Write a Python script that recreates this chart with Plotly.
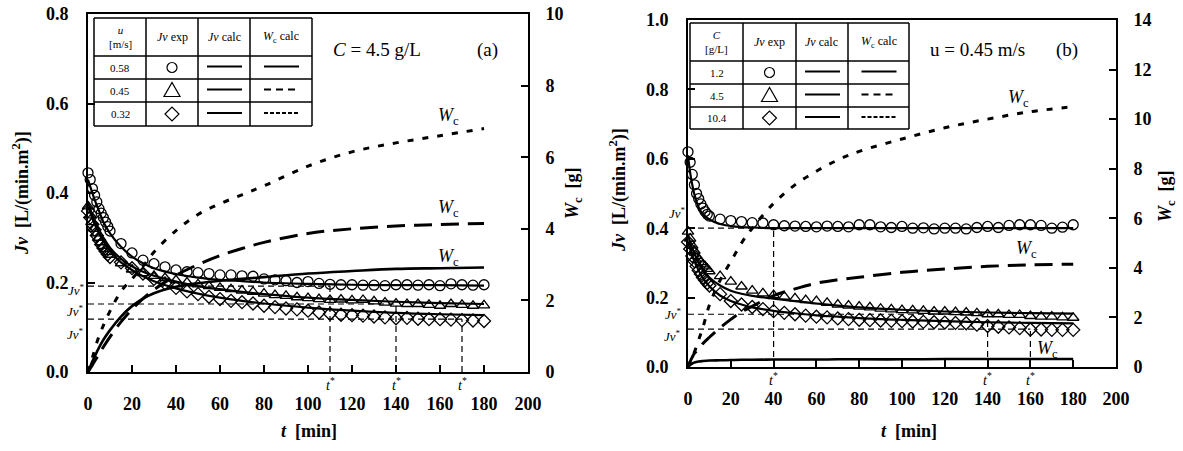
import plotly.graph_objects as go

# ---------------- data ----------------
T_EXP = [0, 1, 2, 3, 4, 5, 6, 7, 8, 9, 10,
         15, 20, 25, 30, 35, 40, 45, 50, 55, 60, 65, 70, 75, 80, 85, 90, 95, 100,
         105, 110, 115, 120, 125, 130, 135, 140, 145, 150, 155, 160, 165, 170, 175, 180]

# panel (a): C = 4.5 g/L, three velocities
JV_A_058 = [0.445, 0.43, 0.41, 0.395, 0.38, 0.365, 0.355, 0.345, 0.335, 0.325, 0.315,
            0.287, 0.266, 0.25, 0.242, 0.235, 0.228, 0.224, 0.222, 0.22, 0.217,
            0.217, 0.215, 0.214, 0.208, 0.206, 0.204, 0.2, 0.202, 0.198, 0.196,
            0.195, 0.195, 0.194, 0.194, 0.193, 0.195, 0.195, 0.194, 0.195, 0.193,
            0.197, 0.195, 0.194, 0.195]
JV_A_045 = [0.37, 0.35, 0.335, 0.32, 0.31, 0.3, 0.29, 0.282, 0.275, 0.268, 0.262,
            0.243, 0.229, 0.221, 0.215, 0.21, 0.205, 0.2, 0.196, 0.192, 0.188,
            0.185, 0.182, 0.179, 0.175, 0.172, 0.17, 0.167, 0.165, 0.163, 0.161,
            0.162, 0.16, 0.161, 0.158, 0.155, 0.153, 0.152, 0.152, 0.15, 0.148,
            0.152, 0.15, 0.148, 0.149]
JV_A_032 = [0.36, 0.345, 0.33, 0.318, 0.305, 0.295, 0.285, 0.277, 0.27, 0.263, 0.257,
            0.245, 0.232, 0.22, 0.208, 0.198, 0.188, 0.18, 0.174, 0.168, 0.163,
            0.159, 0.156, 0.153, 0.148, 0.145, 0.142, 0.14, 0.137, 0.133, 0.13,
            0.128, 0.127, 0.126, 0.124, 0.122, 0.12, 0.121, 0.119, 0.118, 0.118,
            0.117, 0.116, 0.115, 0.114]

T_CALC = [0, 1, 2, 3, 5, 7, 10, 15, 20, 25, 30, 40, 50, 60, 70, 80, 100, 120, 140, 160, 180]

JVC_A_058 = [0.43, 0.415, 0.4, 0.385, 0.36, 0.335, 0.31, 0.28, 0.258, 0.243, 0.232, 0.219,
             0.211, 0.206, 0.203, 0.2, 0.197, 0.195, 0.194, 0.194, 0.193]
JVC_A_045 = [0.38, 0.365, 0.35, 0.338, 0.318, 0.3, 0.278, 0.253, 0.236, 0.224, 0.215, 0.202,
             0.192, 0.185, 0.179, 0.174, 0.166, 0.161, 0.157, 0.154, 0.152]
JVC_A_032 = [0.37, 0.356, 0.343, 0.331, 0.31, 0.292, 0.27, 0.245, 0.228, 0.214, 0.203, 0.187,
             0.175, 0.166, 0.159, 0.153, 0.144, 0.137, 0.132, 0.129, 0.127]

WC_A_058 = [0, 0.15, 0.3, 0.43, 0.68, 0.9, 1.17, 1.55, 1.84, 2.05, 2.2, 2.38,
            2.48, 2.55, 2.6, 2.65, 2.75, 2.82, 2.88, 2.9, 2.92]
WC_A_045 = [0, 0.1, 0.2, 0.3, 0.5, 0.7, 0.98, 1.4, 1.75, 2.05, 2.3, 2.7,
            3.0, 3.25, 3.45, 3.62, 3.87, 4.0, 4.08, 4.12, 4.15]
WC_A_032 = [0, 0.2, 0.4, 0.62, 1.0, 1.3, 1.7, 2.25, 2.6, 2.95, 3.35, 3.95,
            4.4, 4.7, 4.95, 5.2, 5.75, 6.15, 6.4, 6.6, 6.8]

JV_STAR_A = [0.192, 0.152, 0.118]
T_STAR_A = [110, 140, 170]

# panel (b): u = 0.45 m/s, three concentrations
JV_B_12 = [0.62, 0.59, 0.555, 0.525, 0.5, 0.485, 0.47, 0.458, 0.448, 0.44, 0.435,
           0.426, 0.422, 0.419, 0.416, 0.415, 0.41, 0.407, 0.406, 0.405, 0.404,
           0.406, 0.405, 0.404, 0.41, 0.41, 0.404, 0.402, 0.405, 0.4, 0.401,
           0.398, 0.4, 0.4, 0.398, 0.402, 0.405, 0.402, 0.408, 0.41, 0.41,
           0.408, 0.4, 0.403, 0.41]
JV_B_45 = [0.39, 0.37, 0.35, 0.335, 0.32, 0.31, 0.302, 0.296, 0.29, 0.283, 0.276,
           0.262, 0.246, 0.232, 0.22, 0.212, 0.207, 0.203, 0.198, 0.193, 0.19,
           0.185, 0.18, 0.177, 0.174, 0.172, 0.168, 0.166, 0.164, 0.163, 0.162,
           0.16, 0.16, 0.158, 0.157, 0.155, 0.152, 0.152, 0.15, 0.15, 0.147,
           0.145, 0.145, 0.143, 0.142]
JV_B_104 = [0.36, 0.34, 0.32, 0.305, 0.29, 0.278, 0.268, 0.258, 0.25, 0.242, 0.235,
            0.21, 0.19, 0.18, 0.173, 0.167, 0.161, 0.156, 0.152, 0.148, 0.145,
            0.143, 0.14, 0.138, 0.136, 0.135, 0.134, 0.133, 0.132, 0.131, 0.13,
            0.129, 0.128, 0.127, 0.126, 0.122, 0.118, 0.116, 0.114, 0.112, 0.108,
            0.108, 0.107, 0.107, 0.107]

JVC_B_12 = [0.61, 0.56, 0.525, 0.497, 0.46, 0.44, 0.425, 0.412, 0.406, 0.403, 0.402, 0.4,
            0.4, 0.4, 0.4, 0.4, 0.4, 0.4, 0.4, 0.4, 0.4]
JVC_B_45 = [0.38, 0.36, 0.342, 0.327, 0.3, 0.28, 0.258, 0.235, 0.22, 0.211, 0.205, 0.197,
            0.19, 0.183, 0.177, 0.172, 0.165, 0.16, 0.157, 0.155, 0.154]
JVC_B_104 = [0.36, 0.34, 0.32, 0.305, 0.278, 0.256, 0.233, 0.206, 0.19, 0.18, 0.172, 0.162,
             0.155, 0.149, 0.145, 0.141, 0.136, 0.132, 0.129, 0.127, 0.126]

WC_B_12 = [0, 0.08, 0.14, 0.18, 0.22, 0.24, 0.26, 0.27, 0.28, 0.29, 0.29, 0.3,
           0.3, 0.3, 0.31, 0.31, 0.31, 0.32, 0.32, 0.32, 0.32]
WC_B_45 = [0, 0.22, 0.4, 0.55, 0.72, 0.95, 1.2, 1.58, 1.92, 2.22, 2.45, 2.88,
           3.15, 3.38, 3.52, 3.62, 3.82, 3.95, 4.06, 4.12, 4.15]
WC_B_104 = [0, 0.2, 0.4, 0.6, 1.1, 1.6, 2.5, 3.5, 4.25, 5.0, 5.6, 6.6,
            7.35, 7.9, 8.35, 8.7, 9.2, 9.65, 10.0, 10.3, 10.5]

JV_STAR_B = [0.40, 0.152, 0.109]
T_STAR_B = [40, 140, 160]

TABLE_A_LABELS = ["0.58", "0.45", "0.32"]
TABLE_B_LABELS = ["1.2", "4.5", "10.4"]

# ---------------- helpers ----------------
W, H = 1183, 451
FONT = "Liberation Serif"


def px(x):
    return x / W


def py(y):
    return 1 - y / H


def ann(x, y, text, size, **kw):
    d = dict(x=px(x), y=py(y), xref="paper", yref="paper", text=text, showarrow=False,
             xanchor="center", yanchor="middle",
             font=dict(family=FONT, size=size, color="black"))
    d.update(kw)
    return d


fig = go.Figure()


def add_panel(xa, ya, ya2, jv_list, jvc_list, wc_list):
    symbols = ["circle-open", "triangle-up-open", "diamond-open"]
    for jv, sym in zip(jv_list, symbols):
        fig.add_trace(go.Scatter(x=T_EXP, y=jv, mode="markers", xaxis=xa, yaxis=ya,
                                 cliponaxis=False,
                                 marker=dict(symbol=sym, size=10, color="black",
                                             line=dict(color="black", width=1.3)),
                                 showlegend=False))
    for jvc in jvc_list:
        fig.add_trace(go.Scatter(x=T_CALC, y=jvc, mode="lines", xaxis=xa, yaxis=ya,
                                 line=dict(color="black", width=2.2, shape="spline"),
                                 showlegend=False))
    dashes = ["solid", "18px,9px", "6px,9px"]
    widths = [2.6, 3, 3]
    for wc, ds, w in zip(wc_list, dashes, widths):
        fig.add_trace(go.Scatter(x=T_CALC, y=wc, mode="lines", xaxis=xa, yaxis=ya2,
                                 line=dict(color="black", width=w, dash=ds, shape="spline"),
                                 showlegend=False))


add_panel("x", "y", "y2", [JV_A_058, JV_A_045, JV_A_032],
          [JVC_A_058, JVC_A_045, JVC_A_032], [WC_A_058, WC_A_045, WC_A_032])
add_panel("x2", "y3", "y4", [JV_B_12, JV_B_45, JV_B_104],
          [JVC_B_12, JVC_B_45, JVC_B_104], [WC_B_12, WC_B_45, WC_B_104])

TICKFONT = dict(family=FONT, size=18, color="black", weight="bold")
AX = dict(showgrid=False, zeroline=False, showline=True, linecolor="black", linewidth=2,
          ticks="inside", ticklen=7, tickwidth=2, tickcolor="black", tickfont=TICKFONT,
          automargin=False)

layout = dict(
    template="none",
    width=W, height=H, margin=dict(l=0, r=0, t=0, b=0, pad=0, autoexpand=False),
    paper_bgcolor="white", plot_bgcolor="rgba(0,0,0,0)", showlegend=False,
    xaxis=dict(AX, domain=[px(88), px(528)], range=[0, 200], tickvals=list(range(0, 201, 20)),
               anchor="y", mirror=True, ticklabelstandoff=14),
    yaxis=dict(AX, domain=[py(372), py(14)], range=[0, 0.8], dtick=0.2, tickformat=".1f",
               anchor="x", ticklabelstandoff=14),
    yaxis2=dict(AX, range=[0, 10], dtick=2, overlaying="y", side="right", anchor="x",
                ticklabelstandoff=12),
    xaxis2=dict(AX, domain=[px(688), px(1116)], range=[0, 200], tickvals=list(range(0, 201, 20)),
                anchor="y3", mirror=True, ticklabelstandoff=14),
    yaxis3=dict(AX, domain=[py(367), py(20)], range=[0, 1.0], dtick=0.2, tickformat=".1f",
                anchor="x2", ticklabelstandoff=14),
    yaxis4=dict(AX, range=[0, 14], dtick=2, overlaying="y3", side="right", anchor="x2",
                ticklabelstandoff=12),
)
fig.update_layout(**layout)

shapes = []
annotations = []

# reference (Jv*, t*) dashed lines
REF = dict(color="black", width=1.2, dash="6px,4px")
for xr, yr, jvs, tss in [("x", "y", JV_STAR_A, T_STAR_A), ("x2", "y3", JV_STAR_B, T_STAR_B)]:
    for j, t in zip(jvs, tss):
        shapes.append(dict(type="line", xref=xr, yref=yr, x0=0, x1=t, y0=j, y1=j, line=REF))
        shapes.append(dict(type="line", xref=xr, yref=yr, x0=t, x1=t, y0=0, y1=j, line=REF))
        annotations.append(dict(x=t, y=0, xref=xr, yref=yr, yshift=-12, showarrow=False,
                                xanchor="center", yanchor="middle",
                                text="<i>t</i><sup>*</sup>",
                                font=dict(family=FONT, size=14, color="black")))

# Jv* labels
for (x, y) in [(76, 290), (75, 311), (75, 334), (678, 213), (673, 314), (672, 336)]:
    annotations.append(ann(x, y, "<i>Jv</i><sup>*</sup>", 13))

# Wc labels
for (x, y) in [(448, 117), (448, 208), (448, 257), (1018, 98), (1026, 249), (1047, 349)]:
    annotations.append(ann(x, y, "<i>W</i><sub>c</sub>", 18))

# panel texts
annotations += [
    ann(377, 50, "<i>C</i> = 4.5 g/L", 19),
    ann(488, 50, "(a)", 19),
    ann(977, 50, "u = 0.45 m/s", 19),
    ann(1067, 50, "(b)", 19),
]

# axis titles
JV_TITLE = "<b><i>Jv</i>  [L/(min.m<sup>2</sup>)]</b>"
WC_TITLE = "<b><i>W</i><sub>c</sub>  [g]</b>"
T_TITLE = "<b><i>t</i>  [min]</b>"
annotations += [
    ann(21, 193, JV_TITLE, 18, textangle=-90),
    ann(618, 190, JV_TITLE, 18, textangle=-90),
    ann(573, 193, WC_TITLE, 18, textangle=-90),
    ann(1166, 196, WC_TITLE, 18, textangle=-90),
    ann(309, 431, T_TITLE, 18),
    ann(909, 431, T_TITLE, 18),
]


# tables
def table(cols, rows, first_header, labels):
    lw = dict(color="black", width=1.5)
    for c in cols:
        shapes.append(dict(type="line", xref="paper", yref="paper", x0=px(c), x1=px(c),
                           y0=py(rows[0]), y1=py(rows[-1]), line=lw))
    for r in rows:
        shapes.append(dict(type="line", xref="paper", yref="paper", x0=px(cols[0]), x1=px(cols[-1]),
                           y0=py(r), y1=py(r), line=lw))
    cx = [(cols[i] + cols[i + 1]) / 2 for i in range(4)]
    hy = (rows[0] + rows[1]) / 2
    annotations.append(ann(cx[0], hy, first_header, 11))
    annotations.append(ann(cx[1], hy, "<i>Jv</i> exp", 12))
    annotations.append(ann(cx[2], hy, "<i>Jv</i> calc", 12))
    annotations.append(ann(cx[3], hy, "<i>W</i><sub>c</sub> calc", 12))
    dashes = ["solid", "7px,5px", "4px,2px"]
    for i in range(3):
        ry = (rows[i + 1] + rows[i + 2]) / 2
        annotations.append(ann(cx[0], ry, labels[i], 11))
        shapes.append(dict(type="line", xref="paper", yref="paper", x0=px(cx[2] - 17),
                           x1=px(cx[2] + 18), y0=py(ry - 1), y1=py(ry - 1),
                           line=dict(color="black", width=2)))
        shapes.append(dict(type="line", xref="paper", yref="paper", x0=px(cx[3] - 17),
                           x1=px(cx[3] + 18), y0=py(ry - 1), y1=py(ry - 1),
                           line=dict(color="black", width=2, dash=dashes[i])))
        c = cx[1]
        if i == 0:
            shapes.append(dict(type="circle", xref="paper", yref="paper",
                               x0=px(c - 5), x1=px(c + 5), y0=py(ry - 5), y1=py(ry + 5),
                               line=dict(color="black", width=1.2)))
        elif i == 1:
            path = "M {} {} L {} {} L {} {} Z".format(
                px(c - 8), py(ry + 6), px(c + 8), py(ry + 6), px(c), py(ry - 8))
            shapes.append(dict(type="path", xref="paper", yref="paper", path=path,
                               line=dict(color="black", width=1.2)))
        else:
            path = "M {} {} L {} {} L {} {} L {} {} Z".format(
                px(c - 7), py(ry), px(c), py(ry - 7), px(c + 7), py(ry), px(c), py(ry + 7))
            shapes.append(dict(type="path", xref="paper", yref="paper", path=path,
                               line=dict(color="black", width=1.2)))


table([94, 146, 198, 250, 312], [18, 56, 79, 102, 126], "<i>u</i><br>[m/s]", TABLE_A_LABELS)
table([690, 743, 796, 848, 909], [23, 61, 84, 107, 129], "<i>C</i><br>[g/L]", TABLE_B_LABELS)

for (x0, y0, x1, y1) in [(94, 18, 312, 126), (690, 23, 909, 129)]:
    shapes.insert(0, dict(type="rect", xref="paper", yref="paper", x0=px(x0), x1=px(x1),
                          y0=py(y1), y1=py(y0), fillcolor="white", line=dict(width=0),
                          layer="below"))

fig.update_layout(shapes=shapes, annotations=annotations)
fig.write_html("out.html")
